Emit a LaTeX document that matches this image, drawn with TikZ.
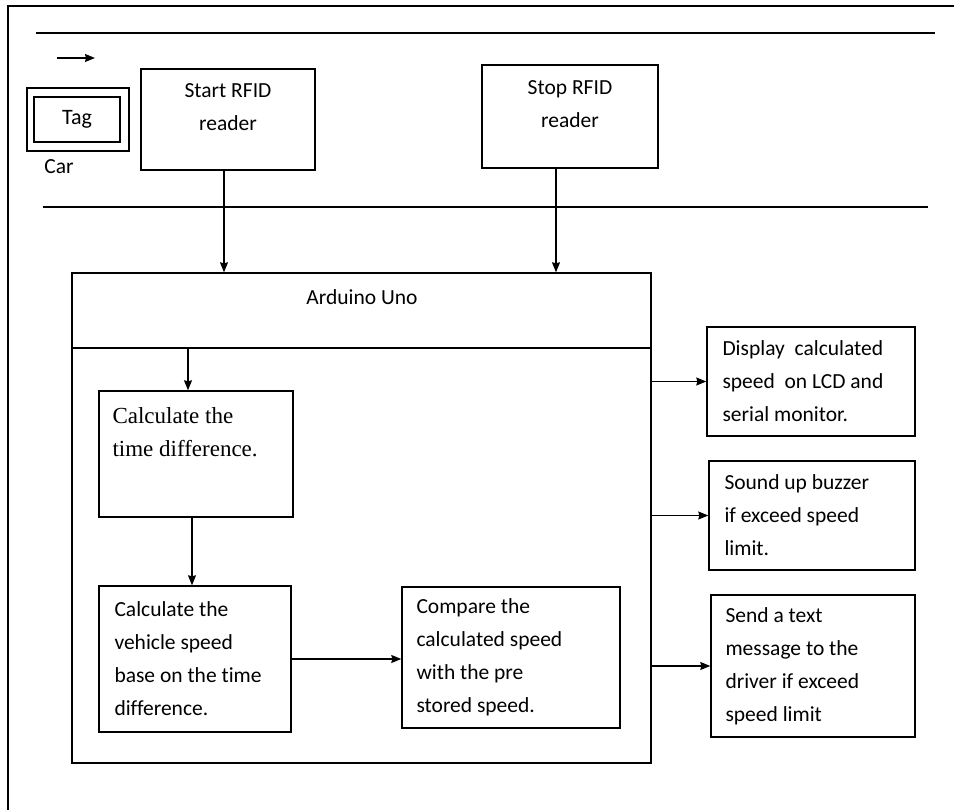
\documentclass[tikz,border=0pt]{standalone}
\usepackage{fontspec}
\setmainfont[Ligatures=NoCommon]{Carlito}
\newfontfamily\timesfont{Liberation Serif}
\usepackage{tikz}
\usetikzlibrary{arrows.meta}
\usetikzlibrary{positioning}

\begin{document}
\begin{tikzpicture}[x=1pt,y=-1pt]
	\useasboundingbox (0,0) rectangle (954,810);

	% frame and lane lines
	\coordinate (frameBL) at (8,810);
	\coordinate (frameTL) at (8,6);
	\coordinate (frameTR) at (954,6);
	\coordinate (laneA1) at (36,33);
	\coordinate (laneA2) at (935,33);
	\coordinate (laneB1) at (43,207);
	\coordinate (laneB2) at (928,207);
	\coordinate (dirS) at (57,58);
	\coordinate (dirE) at (95,58);
	\draw[line width=1.8pt] (frameBL) -- (frameTL) -- (frameTR);
	\draw[line width=1.3pt] (laneA1) -- (laneA2);
	\draw[line width=1.2pt] (laneB1) -- (laneB2);

	\begin{scope}[every node/.style={rectangle,draw,line width=1.4pt,inner sep=0pt}]
		\node[minimum width=102,minimum height=63] (car) at (78,119.5) {};
		\node[minimum width=86,minimum height=45,font=\fontsize{22}{33}\selectfont] (tag) at (77,119.5) {Tag};
		\node[minimum width=174,minimum height=101] (start) at (228,119.5) {};
		\node[minimum width=176,minimum height=103] (stop) at (570,116.5) {};
		\node[minimum width=579,minimum height=490] (uno) at (361.5,518) {};
		\node[minimum width=194,minimum height=126] (tdiff) at (196,454) {};
		\node[minimum width=192,minimum height=146] (vspeed) at (195,659) {};
		\node[minimum width=218,minimum height=141] (cmp) at (511,657.5) {};
		\node[minimum width=208,minimum height=109] (lcd) at (811,381.5) {};
		\node[minimum width=206,minimum height=109] (buzz) at (812,515.5) {};
		\node[minimum width=204,minimum height=142] (sms) at (813,666) {};
	\end{scope}

	\coordinate (divL) at (72,348);
	\coordinate (divR) at (651,348);
	\draw[line width=1.4pt] (divL) -- (divR);

	\begin{scope}[every node/.style={inner sep=0pt,align=left,font=\fontsize{21.5}{33}\selectfont}]
		\node (carlbl) at (59,167) {Car};
		\node[align=center,below=15pt of start.north] (starttxt) {Start RFID\\reader};
		\node[align=center,below=16pt of stop.north] (stoptxt) {Stop RFID\\reader};
		\node (unotxt) at (362,297) {Arduino Uno};
		\node[below right=17pt and 14pt of tdiff.north west,font=\timesfont\fontsize{23}{33}\selectfont] (tdifftxt) {Calculate the\\time difference.};
		\node[right=16pt of vspeed.west] (vspeedtxt) {Calculate the\\vehicle speed\\base on the time\\difference.};
		\node[right=15pt of cmp.west] (cmptxt) {Compare the\\calculated speed\\with the pre\\stored speed.};
		\node[right=16pt of lcd.west] (lcdtxt) {Display\ \ calculated\\speed\ \ on LCD and\\serial monitor.};
		\node[right=16pt of buzz.west] (buzztxt) {Sound up buzzer\\if exceed speed\\limit.};
		\node[right=15pt of sms.west] (smstxt) {Send a text\\message to the\\driver if exceed\\speed limit};
	\end{scope}

	\begin{scope}[>={Stealth[black,length=10pt,width=8pt,inset=1pt]},line width=1.1pt]
		\draw[->,line width=1.4pt] (dirS) -- (dirE);
		\draw[->] ([xshift=-4pt]start.south) -- ([xshift=-4pt]start.south |- uno.north);
		\draw[->] ([xshift=-14pt]stop.south) -- ([xshift=-14pt]stop.south |- uno.north);
		\draw[->] ([xshift=-8pt]tdiff.north |- divL) -- ([xshift=-8pt]tdiff.north);
		\draw[->] ([xshift=-4pt]tdiff.south) -- ([xshift=-4pt]tdiff.south |- vspeed.north);
		\draw[->] (vspeed.east) -- (vspeed.east -| cmp.west);
		\draw[->] (uno.east |- lcd.west) -- (lcd.west);
		\draw[->] (uno.east |- buzz.west) -- (buzz.west);
		\draw[->] (uno.east |- sms.west) -- (sms.west);
	\end{scope}
\end{tikzpicture}
\end{document}
